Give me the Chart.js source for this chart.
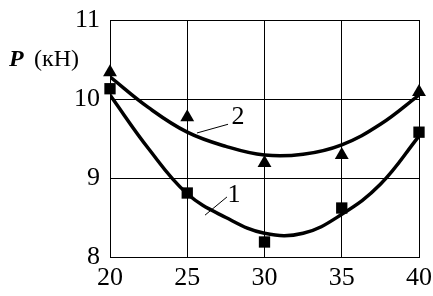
<!DOCTYPE html>
<html>
<head>
<meta charset="utf-8">
<script src="https://cdn.jsdelivr.net/npm/chart.js@4/dist/chart.umd.min.js"></script>
<style>
  html, body { margin: 0; padding: 0; background: #fff; }
  canvas { display: block; }
</style>
</head>
<body>
<canvas id="chart" width="433" height="296"></canvas>
<script>
// measured points
var xValues = [20, 25, 30, 35, 40];
var series1 = [10.13, 8.81, 8.19, 8.62, 9.58];   // squares, curve "1"
var series2 = [10.34, 9.77, 9.19, 9.29, 10.09];  // triangles, curve "2"

// fitted curves
var curveX = [20, 22.5, 25, 27.5, 30, 32.5, 35, 37.5, 40];
var curve1 = [10.05, 9.37, 8.8, 8.5, 8.3, 8.3, 8.54, 8.92, 9.53];
var curve2 = [10.28, 9.89, 9.58, 9.4, 9.29, 9.3, 9.42, 9.68, 10.05];

// curve labels and their leader lines
var labelText = ['1', '2'];
var labelX = [28.03, 28.28];
var labelY = [8.78, 9.77];
var leader1 = [[26.15, 8.53], [27.57, 8.76]];
var leader2 = [[25.63, 9.57], [27.64, 9.68]];

var xTicks = [20, 25, 30, 35, 40];
var yTicks = [8, 9, 10, 11];

function pts(xs, ys) {
	return xs.map(function(x, i) { return {x: x, y: ys[i]}; });
}
function seg(s) {
	return s.map(function(p) { return {x: p[0], y: p[1]}; });
}

var serif = "'Liberation Serif', 'Times New Roman', serif";

var labelsPlugin = {
	id: 'curveLabels',
	afterDatasetsDraw: function(chart) {
		var ctx = chart.ctx;
		var xs = chart.scales.x, ys = chart.scales.y;
		ctx.save();
		ctx.fillStyle = '#000';
		ctx.font = '26px ' + serif;
		ctx.textAlign = 'center';
		ctx.textBaseline = 'middle';
		labelText.forEach(function(t, i) {
			ctx.fillText(t, xs.getPixelForValue(labelX[i]), ys.getPixelForValue(labelY[i]));
		});
		// axis title "P (кН)"
		ctx.textAlign = 'left';
		ctx.textBaseline = 'alphabetic';
		ctx.font = 'italic bold 24px ' + serif;
		ctx.fillText('P', 9, 66);
		ctx.font = '24px ' + serif;
		ctx.fillText('(кН)', 34, 66);
		ctx.restore();
	}
};

new Chart(document.getElementById('chart').getContext('2d'), {
	type: 'scatter',
	data: {
		datasets: [
			{
				type: 'line',
				data: pts(curveX, curve1),
				borderColor: '#000',
				borderWidth: 3.5,
				pointRadius: 0,
				tension: 0.4,
				fill: false
			},
			{
				type: 'line',
				data: pts(curveX, curve2),
				borderColor: '#000',
				borderWidth: 3.5,
				pointRadius: 0,
				tension: 0.4,
				fill: false
			},
			{
				data: pts(xValues, series1),
				pointStyle: 'rect',
				pointRadius: 8,
				backgroundColor: '#000',
				borderColor: '#000',
				borderWidth: 0,
				clip: false
			},
			{
				data: pts(xValues, series2),
				pointStyle: 'triangle',
				pointRadius: 8,
				backgroundColor: '#000',
				borderColor: '#000',
				borderWidth: 0,
				clip: false
			},
			{
				type: 'line',
				data: seg(leader1),
				borderColor: '#000',
				borderWidth: 1,
				pointRadius: 0
			},
			{
				type: 'line',
				data: seg(leader2),
				borderColor: '#000',
				borderWidth: 1,
				pointRadius: 0
			}
		]
	},
	options: {
		responsive: false,
		animation: false,
		layout: { padding: { top: 20, right: 14, left: 0, bottom: 0 } },
		plugins: {
			legend: { display: false },
			tooltip: { enabled: false }
		},
		scales: {
			x: {
				type: 'linear',
				min: 20,
				max: 40,
				afterBuildTicks: function(s) { s.ticks = xTicks.map(function(v) { return {value: v}; }); },
				afterFit: function(s) { s.height = 39; s.paddingLeft = 0; s.paddingRight = 0; },
				grid: { color: '#000', lineWidth: 1, drawTicks: false },
				border: { color: '#000', width: 1 },
				ticks: { color: '#000', padding: 6, font: { family: serif, size: 26 } }
			},
			y: {
				min: 8,
				max: 11,
				afterBuildTicks: function(s) { s.ticks = yTicks.map(function(v) { return {value: v}; }); },
				afterFit: function(s) { s.width = 110; s.paddingTop = 0; s.paddingBottom = 0; },
				grid: { color: '#000', lineWidth: 1, drawTicks: false },
				border: { color: '#000', width: 1 },
				ticks: { color: '#000', padding: 10, font: { family: serif, size: 26 } }
			}
		}
	},
	plugins: [labelsPlugin]
});
</script>
</body>
</html>
